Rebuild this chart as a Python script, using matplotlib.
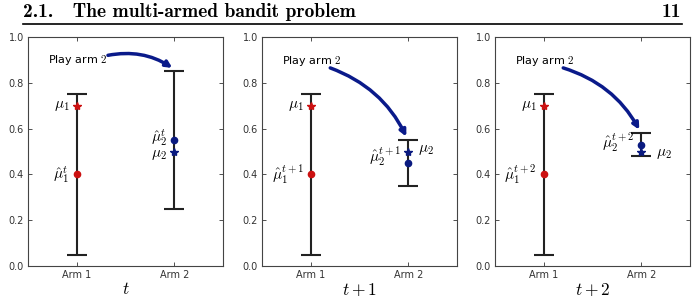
import matplotlib
matplotlib.use('Agg')
import matplotlib.pyplot as plt

plt.rcParams['mathtext.fontset'] = 'cm'
plt.rcParams['font.family'] = 'DejaVu Sans'

arms = [1, 2]
arm_labels = ['Arm 1', 'Arm 2']
steps = [r'$t$', r'$t+1$', r'$t+2$']

# confidence intervals (low, high) for each arm at each step
arm1_low = [0.05, 0.05, 0.05]
arm1_high = [0.75, 0.75, 0.75]
arm2_low = [0.25, 0.35, 0.48]
arm2_high = [0.85, 0.55, 0.58]
# empirical means and true means
arm1_hat = [0.4, 0.4, 0.4]
arm2_hat = [0.55, 0.45, 0.53]
mu1 = 0.7
mu2 = 0.5

hat1_labels = [r'$\hat{\mu}_1^t$', r'$\hat{\mu}_1^{t+1}$', r'$\hat{\mu}_1^{t+2}$']
hat2_labels = [r'$\hat{\mu}_2^t$', r'$\hat{\mu}_2^{t+1}$', r'$\hat{\mu}_2^{t+2}$']

fig = plt.figure(figsize=(6.93, 2.96), dpi=100)

# page header
fig.text(23 / 693, 1 - 17 / 296, '2.1.   The multi-armed bandit problem',
         fontfamily='cmb10', fontsize=14, ha='left', va='baseline')
fig.text(681 / 693, 1 - 17 / 296, '11', fontfamily='cmb10', fontsize=14,
         ha='right', va='baseline')
fig.add_artist(plt.Line2D([23 / 693, 682 / 693], [1 - 23.5 / 296, 1 - 23.5 / 296],
                          color='black', lw=1.2))

lefts = [28, 262, 495]
for i in range(3):
    ax = fig.add_axes([lefts[i] / 693, 30 / 296, 195 / 693, 229 / 296])
    for x, lo, hi, hat, mu, c in [(1, arm1_low[i], arm1_high[i], arm1_hat[i], mu1, '#cc1111'),
                                  (2, arm2_low[i], arm2_high[i], arm2_hat[i], mu2, '#0a1a80')]:
        mid = (lo + hi) / 2
        ax.errorbar([x], [mid], yerr=[[mid - lo], [hi - mid]], fmt='none',
                    ecolor='#222222', elinewidth=1.5, capsize=7.5, capthick=1.5)
        ax.plot([x], [hat], 'o', color=c, ms=4.5, zorder=3)
        ax.plot([x], [mu], '*', color=c, ms=6, zorder=3)

    ax.text(0.93, mu1, r'$\mu_1$', fontsize=11, ha='right', va='center')
    ax.text(0.93, arm1_hat[i], hat1_labels[i], fontsize=11, ha='right', va='center')
    if i == 0:
        ax.text(1.93, arm2_hat[i] + 0.01, hat2_labels[i], fontsize=11, ha='right', va='center')
        ax.text(1.93, mu2 - 0.015, r'$\mu_2$', fontsize=11, ha='right', va='center')
    elif i == 1:
        ax.text(1.93, arm2_hat[i] + 0.03, hat2_labels[i], fontsize=11, ha='right', va='center')
        ax.text(2.1, mu2 + 0.01, r'$\mu_2$', fontsize=11, ha='left', va='center')
    else:
        ax.text(1.93, arm2_hat[i] + 0.01, hat2_labels[i], fontsize=11, ha='right', va='center')
        ax.text(2.15, mu2 - 0.01, r'$\mu_2$', fontsize=11, ha='left', va='center')

    # "Play arm 2" curved arrow
    if i == 0:
        ax.text(0.7, 0.9, r'Play arm $2$', fontsize=8, ha='left', va='center')
        ax.annotate('', xy=(1.98, 0.865), xytext=(1.32, 0.92),
                    arrowprops=dict(arrowstyle='-|>', color='#0a1a8a', lw=2.5,
                                    mutation_scale=9, shrinkA=0, shrinkB=0,
                                    connectionstyle='arc3,rad=-0.2'))
    else:
        ax.text(0.71, 0.895, r'Play arm $2$', fontsize=8, ha='left', va='center')
        ax.annotate('', xy=(1.98, arm2_high[i] + 0.015), xytext=(1.2, 0.865),
                    arrowprops=dict(arrowstyle='-|>', color='#0a1a8a', lw=2.5,
                                    mutation_scale=9, shrinkA=0, shrinkB=0,
                                    connectionstyle='arc3,rad=-0.2'))

    ax.set_xlim(0.5, 2.5)
    ax.set_ylim(0, 1)
    ax.set_xticks(arms)
    ax.set_xticklabels(arm_labels)
    ax.set_yticks([0, 0.2, 0.4, 0.6, 0.8, 1.0])
    ax.set_yticklabels(['0.0', '0.2', '0.4', '0.6', '0.8', '1.0'])
    ax.tick_params(direction='in', top=True, right=True, labelsize=7, length=3,
                   width=0.6, colors='#333333', pad=3)
    for s in ax.spines.values():
        s.set_linewidth(0.8)
        s.set_color('#444444')
    ax.set_xlabel(steps[i], fontsize=12.5, labelpad=0)
    if i == 0:
        ax.set_ylabel('Reward', fontsize=14, labelpad=5)

fig.savefig('out.png', dpi=100)
